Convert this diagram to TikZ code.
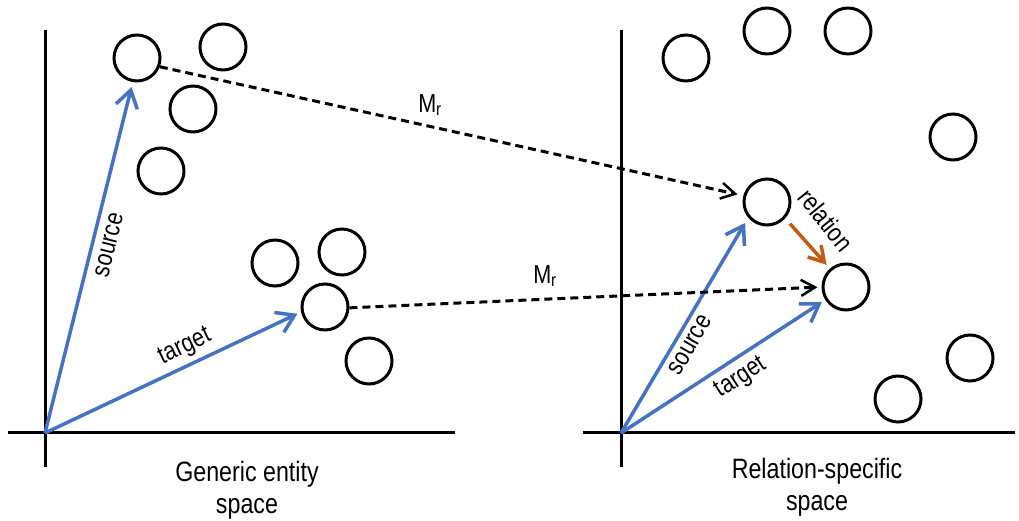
\documentclass[tikz,border=0pt]{standalone}
\usepackage{fontspec}
\setmainfont{Liberation Sans}[FakeStretch=0.83]
\usetikzlibrary{arrows.meta}
\definecolor{vblue}{HTML}{4472C4}
\definecolor{vorange}{HTML}{C55A11}
\tikzset{
  ent/.style={circle,draw=black,line width=3pt,fill=white,minimum size=46pt,inner sep=0pt},
  axis/.style={line width=3pt,black},
  vec/.style={line width=3.5pt,vblue,-{Straight Barb[length=17pt,width=22pt,line width=3.5pt]}},
  map/.style={line width=3pt,black,dash pattern=on 8pt off 5pt,-{Straight Barb[length=14pt,width=16pt,line width=2.5pt]}},
  rel/.style={line width=3.5pt,vorange,-{Straight Barb[length=15pt,width=18pt,line width=3.5pt]}},
  lbl/.style={inner sep=0pt,font=\fontsize{26}{30}\selectfont},
  captext/.style={inner sep=0pt,align=center,anchor=north,font=\fontsize{28}{32}\selectfont}
}
\begin{document}
\begin{tikzpicture}[x=1pt,y=1pt]
\useasboundingbox (0,0) rectangle (1019,521);
% axes
\coordinate (O1) at (45,88);
\coordinate (L1top) at (45,491);
\coordinate (L1bot) at (45,54);
\coordinate (L1left) at (8,88);
\coordinate (L1right) at (455,88);
\coordinate (O2) at (621,88);
\coordinate (R1top) at (621,491);
\coordinate (R1bot) at (621,54);
\coordinate (R1left) at (583,88);
\coordinate (R1right) at (1015,88);
\draw[axis] (L1top) -- (L1bot);
\draw[axis] (L1left) -- (L1right);
\draw[axis] (R1top) -- (R1bot);
\draw[axis] (R1left) -- (R1right);
% left entities
\node[ent] (ls) at (137,463) {};
\node[ent] (l2) at (223,474) {};
\node[ent] (l3) at (193,412) {};
\node[ent] (l4) at (161,350) {};
\node[ent] (l5) at (275,258) {};
\node[ent] (l6) at (342,269) {};
\node[ent] (lt) at (325,214) {};
\node[ent] (l7) at (369,160) {};
% right entities
\node[ent] (r1) at (686,463) {};
\node[ent] (r2) at (767,490) {};
\node[ent] (r3) at (848,490) {};
\node[ent] (r4) at (953,384) {};
\node[ent] (rs) at (767,319) {};
\node[ent] (rt) at (846,234) {};
\node[ent] (r5) at (898,122) {};
\node[ent] (r6) at (970,163) {};
% vectors
\draw[vec,shorten >=5pt] (O1) -- (ls.260);
\draw[vec,shorten >=4pt] (O1) -- (lt.192);
\draw[vec,shorten >=6pt] (O2) -- (rs.220);
\draw[vec,shorten >=4pt] (O2) -- (rt.212);
% mappings
\draw[map,shorten >=6pt] (ls.-21) -- (rs.165);
\draw[map,shorten >=4pt] (lt.-2) -- (rt.180);
% relation
\draw[rel,shorten <=7pt,shorten >=5pt] (rs.318) -- (rt.131);
% labels
\node[lbl] (m1) at (430,416) {M\textsubscript{r}};
\node[lbl] (m2) at (545,245) {M\textsubscript{r}};
\node[lbl,rotate=76] (srcL) at (109,276) {source};
\node[lbl,rotate=25.5] (tgtL) at (185,174) {target};
\node[lbl,rotate=60] (srcR) at (690,176) {source};
\node[lbl,rotate=33] (tgtR) at (741,143) {target};
\node[lbl,rotate=-51] (relL) at (826,301) {relation};
\node[captext] (capL) at (247,60) {Generic entity\\space};
\node[captext] (capR) at (817,63) {Relation-specific\\space};
\end{tikzpicture}
\end{document}
